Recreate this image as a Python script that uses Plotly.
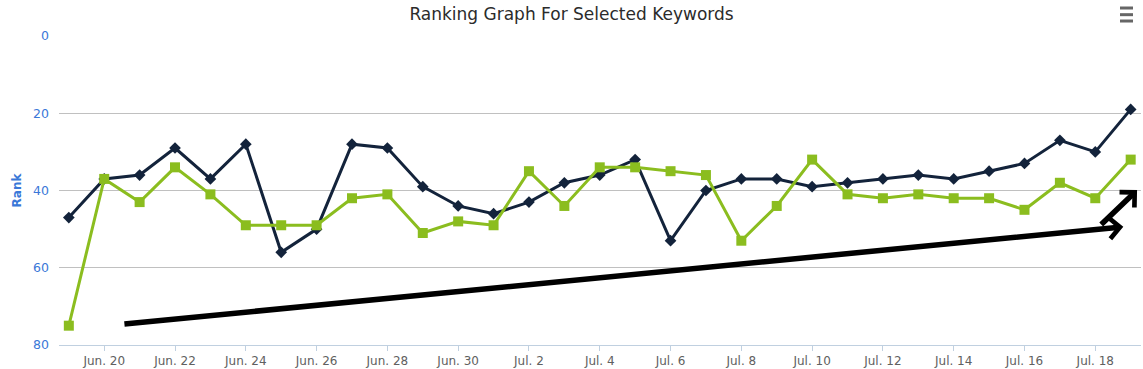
import plotly.graph_objects as go
import pandas as pd

dates = pd.date_range("2015-06-19", "2015-07-19", freq="D")

navy_ranks = [47, 37, 36, 29, 37, 28, 56, 50, 28, 29,
              39, 44, 46, 43, 38, 36, 32, 53, 40, 37,
              37, 39, 38, 37, 36, 37, 35, 33, 27, 30, 19]
green_ranks = [75, 37, 43, 34, 41, 49, 49, 49, 42, 41,
               51, 48, 49, 35, 44, 34, 34, 35, 36, 53,
               44, 32, 41, 42, 41, 42, 42, 45, 38, 42, 32]

y_ticks = [0, 20, 40, 60, 80]

# hand-drawn arrow annotations (start -> tip), in data coordinates
arrow_starts_x = ["2015-06-20 12:40", "2015-07-18 03:00"]
arrow_starts_y = [74.6, 49.2]
arrow_tips_x = ["2015-07-18 19:00", "2015-07-19 04:20"]
arrow_tips_y = [49.4, 39.9]

FONT = "DejaVu Sans"
NAVY = "#13233b"
GREEN = "#8bbd1f"
BLUE = "#3a78d8"

fig = go.Figure()
fig.add_trace(go.Scatter(
    x=dates, y=navy_ranks, mode="lines+markers", name="Keyword 1",
    line=dict(color=NAVY, width=3),
    marker=dict(symbol="diamond", size=9, color=NAVY),
))
fig.add_trace(go.Scatter(
    x=dates, y=green_ranks, mode="lines+markers", name="Keyword 2",
    line=dict(color=GREEN, width=3),
    marker=dict(symbol="square", size=10, color=GREEN),
))

for sx, sy, tx, ty in zip(arrow_starts_x, arrow_starts_y, arrow_tips_x, arrow_tips_y):
    fig.add_annotation(
        x=tx, y=ty, ax=sx, ay=sy, xref="x", yref="y", axref="x", ayref="y",
        showarrow=True, arrowhead=4, arrowwidth=5.5, arrowsize=0.75,
        arrowcolor="#000000", text="",
    )

# export menu (hamburger) icon
for yy in [1.0906, 1.069, 1.0485]:
    fig.add_shape(type="line", xref="paper", yref="paper",
                  x0=0.9806, x1=0.9926, y0=yy, y1=yy,
                  line=dict(color="#666666", width=3))

fig.update_layout(
    width=1143, height=369,
    margin=dict(l=59, r=2, t=36, b=24),
    paper_bgcolor="white", plot_bgcolor="white",
    showlegend=False,
    title=dict(text="Ranking Graph For Selected Keywords",
               x=0.5, xanchor="center", y=0.962, yanchor="middle",
               font=dict(family=FONT, size=17, color="#2b2b2b")),
    font=dict(family=FONT),
    xaxis=dict(
        type="date",
        range=["2015-06-18 17:20", "2015-07-19 07:00"],
        tickformat="%b. %-d", dtick=2 * 86400000, tick0="2015-06-20",
        tickfont=dict(family=FONT, size=12, color="#606060"),
        showgrid=False, showline=True, linecolor="#C0D0E0", linewidth=1,
        ticks="outside", ticklen=5, tickcolor="#C0D0E0",
        zeroline=False, fixedrange=True,
    ),
    yaxis=dict(
        range=[80, 0], tickvals=y_ticks,
        tickfont=dict(family=FONT, size=12.5, color=BLUE),
        title=dict(text="<b>Rank</b>", font=dict(family=FONT, size=12, color=BLUE), standoff=8),
        showgrid=True, gridcolor="#C0C0C0", gridwidth=1,
        zeroline=False, showline=False, ticks="", ticklabelstandoff=9,
    ),
)

fig.write_html("out.html", config={"displayModeBar": False},
               post_script="document.body.style.margin='0';")
